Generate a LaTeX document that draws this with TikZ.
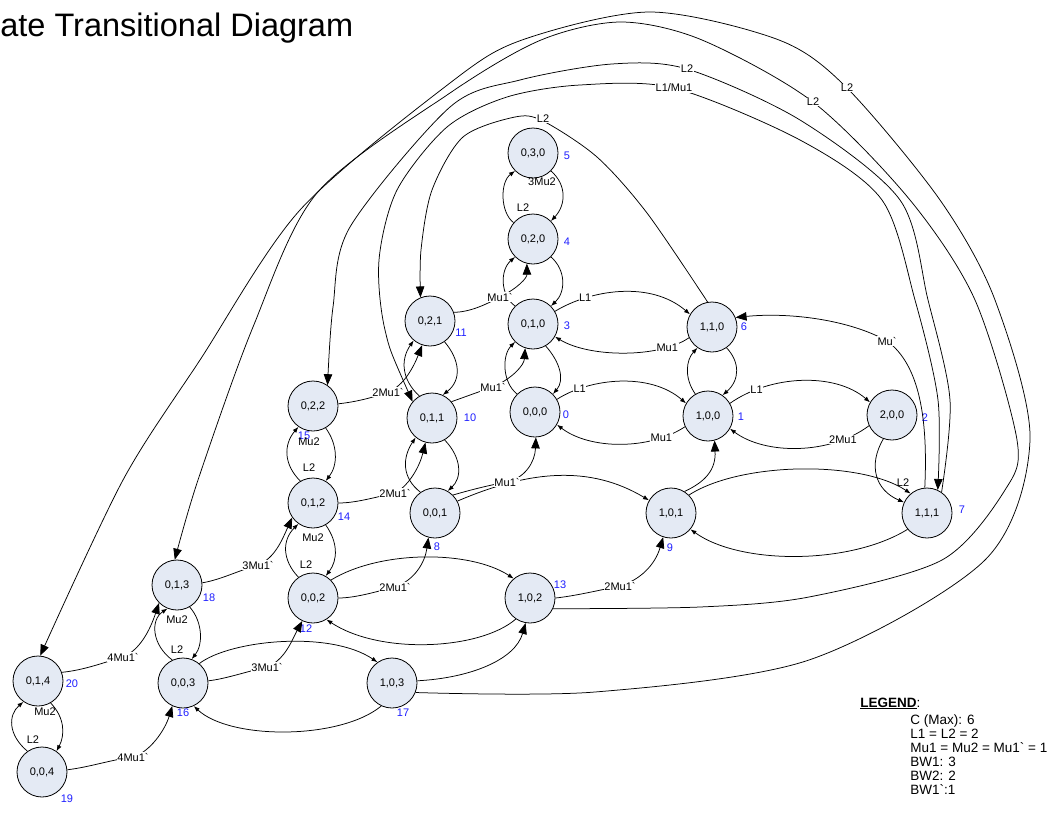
\documentclass[tikz,border=0pt]{standalone}
\usepackage{fontspec}
\setmainfont{Liberation Sans}[Ligatures=TeXOff]
\usetikzlibrary{arrows.meta}
\definecolor{stfill}{RGB}{228,234,244}
\definecolor{numblue}{RGB}{30,30,255}
\tikzset{
  st/.style={circle,draw,line width=0.8pt,fill=stfill,minimum size=50pt,inner sep=0pt,font=\fontsize{11}{13}\selectfont},
  num/.style={text=numblue,inner sep=0pt,font=\fontsize{11}{13}\selectfont},
  lab/.style={inner sep=0.6pt,font=\fontsize{11}{13}\selectfont},
  onl/.style={lab,fill=white},
  sa/.style={-{Latex[length=6pt,width=4.5pt]}},
  ba/.style={-{Triangle[length=11pt,width=8.5pt]}},
  bb/.style={{Triangle[length=11pt,width=8.5pt]}-{Triangle[length=11pt,width=8.5pt]}}
}
\begin{document}
\begin{tikzpicture}[x=1pt,y=-1pt,line width=0.75pt]
      \useasboundingbox (0,0) rectangle (1052,814);
      \node[anchor=base west,inner sep=0pt,font=\fontsize{32.5}{36}\selectfont] (title) at (0,36) {ate Transitional Diagram};
      \path
        (535,412) node[st] (0){0,0,0}
        (708,416) node[st] (1){1,0,0}
        (892,415) node[st] (2){2,0,0}
        (533,324) node[st] (3){0,1,0}
        (533,239) node[st] (4){0,2,0}
        (533,153) node[st] (5){0,3,0}
        (712,327) node[st] (6){1,1,0}
        (927,513) node[st] (7){1,1,1}
        (435,513) node[st] (8){0,0,1}
        (671,513) node[st] (9){1,0,1}
        (432,418) node[st] (10){0,1,1}
        (430,321) node[st] (11){0,2,1}
        (313,598) node[st] (12){0,0,2}
        (530,598) node[st] (13){1,0,2}
        (313,503) node[st] (14){0,1,2}
        (313,406) node[st] (15){0,2,2}
        (183,683) node[st] (16){0,0,3}
        (392,683) node[st] (17){1,0,3}
        (177,585) node[st] (18){0,1,3}
        (42,772) node[st] (19){0,0,4}
        (38,681) node[st] (20){0,1,4};
      \path
        (566,415) node[num] (l0){0}
        (741,417) node[num] (l1){1}
        (925,418) node[num] (l2){2}
        (567,326) node[num] (l3){3}
        (567,242) node[num] (l4){4}
        (567,156) node[num] (l5){5}
        (744,327) node[num] (l6){6}
        (962,510) node[num] (l7){7}
        (437,547) node[num] (l8){8}
        (670,548) node[num] (l9){9}
        (470,418) node[num] (l10){10}
        (461,333) node[num] (l11){11}
        (306,629) node[num] (l12){12}
        (560,585) node[num] (l13){13}
        (344,517) node[num] (l14){14}
        (304,436) node[num] (l15){15}
        (183,713) node[num] (l16){16}
        (403,713) node[num] (l17){17}
        (209,598) node[num] (l18){18}
        (67,799) node[num] (l19){19}
        (72,684) node[num] (l20){20};
      \begin{scope}[sa]
        \draw (4.140) .. controls (500,212) and (500,182) .. (5.225) node[lab] at (523,208) {L2};
        \draw (5.-45) .. controls (567,185) and (566,205) .. (4.45) node[lab] at (542,182) {3Mu2};
        \draw (3.135) .. controls (500,295) and (500,270) .. (4.225);
        \draw (4.-45) .. controls (566,270) and (566,292) .. (3.45);
        \draw (0.135) .. controls (502,382) and (502,355) .. (3.225);
        \draw (3.-60) .. controls (560,362) and (565,380) .. (0.45);
        \draw (1.120) .. controls (684,378) and (686,360) .. (6.235);
        \draw (6.-55) .. controls (740,362) and (740,380) .. (1.55);
        \draw (2.-110) .. controls (868,465) and (875,490) .. (7.155);
        \draw (7.-140) .. controls (850,565) and (740,565) .. (9.-40);
        \draw (11.-55) .. controls (460,360) and (462,380) .. (10.65);
        \draw (10.120) .. controls (402,380) and (400,360) .. (11.-130);
        \draw (10.-60) .. controls (462,458) and (462,478) .. (8.60);
        \draw (8.125) .. controls (402,478) and (402,458) .. (10.-130);
        \draw (8.28) .. controls (530,470) and (590,465) .. (9.150);
        \draw (12.45) .. controls (380,550) and (470,550) .. (13.130);
        \draw (13.-124) .. controls (480,650) and (380,655) .. (12.-58);
        \draw (16.50) .. controls (230,640) and (330,630) .. (17.125);
        \draw (17.-115) .. controls (340,740) and (230,740) .. (16.-65);
        \draw (9.45) .. controls (740,462) and (860,460) .. (7.130) node[lab] at (903,483) {L2};
        \draw (3.30) .. controls (590,290) and (650,280) .. (6.150) node[onl,pos=.25] {L1};
        \draw (6.205) .. controls (660,358) and (590,358) .. (3.-30) node[onl,pos=.2] {Mu1};
        \draw (0.30) .. controls (590,378) and (650,372) .. (1.150) node[onl,pos=.2] {L1};
        \draw (1.205) .. controls (650,450) and (590,450) .. (0.-30) node[onl,pos=.2] {Mu1};
        \draw (1.30) .. controls (770,375) and (835,372) .. (2.150) node[onl,pos=.2] {L1};
        \draw (2.205) .. controls (830,455) and (765,455) .. (1.-30) node[onl,pos=.2] {2Mu1};
        \draw (15.-60) .. controls (338,445) and (338,465) .. (14.60) node[lab] at (309,442) {Mu2};
        \draw (14.120) .. controls (284,465) and (283,445) .. (15.-125) node[lab] at (309,468) {L2};
        \draw (14.-60) .. controls (338,542) and (338,560) .. (12.60) node[lab] at (313,538) {Mu2};
        \draw (12.125) .. controls (282,560) and (282,540) .. (14.-125) node[lab] at (306,565) {L2};
        \draw (16.115) .. controls (152,645) and (150,620) .. (18.-112) node[lab] at (177,650) {L2};
        \draw (18.-60) .. controls (203,622) and (203,645) .. (16.70) node[lab] at (177,620) {Mu2};
        \draw (20.-60) .. controls (65,718) and (65,735) .. (19.55) node[lab] at (45,712) {Mu2};
        \draw (19.125) .. controls (8,735) and (8,715) .. (20.-125) node[lab] at (33,740) {L2};
      \end{scope}
      \begin{scope}[ba]
        \draw (9.58) .. controls (705,482) and (716,470) .. (1.-75);
        \draw (17.5) .. controls (470,678) and (515,660) .. (13.-100);
        \draw (11.20) .. controls (470,312) and (485,305) .. (500,297) node[onl]{Mu1`} .. controls (518,288) and (527,278) .. (4.-104);
        \draw (10.40) .. controls (462,398) and (478,392) .. (493,387) node[onl]{Mu1`} .. controls (513,378) and (524,365) .. (3.-108);
        \draw (7.95) .. controls (928,420) and (920,365) .. (887,341) node[onl]{Mu`} .. controls (850,320) and (790,312) .. (6.22);
        \draw (15.5) .. controls (355,402) and (372,398) .. (388,392) node[onl]{2Mu1`} .. controls (404,386) and (414,366) .. (11.-108);
        \draw (14.0) .. controls (355,503) and (372,498) .. (395,493) node[onl]{2Mu1`} .. controls (410,485) and (420,465) .. (10.-105);
        \draw (8.45) .. controls (470,490) and (490,485) .. (507,482) node[onl]{Mu1`} .. controls (525,478) and (535,462) .. (0.-88);
        \draw (18.5) .. controls (220,580) and (240,570) .. (258,565) node[onl]{3Mu1`} .. controls (275,558) and (282,540) .. (14.-145);
        \draw (12.0) .. controls (355,598) and (375,592) .. (395,587) node[onl]{2Mu1`} .. controls (415,580) and (425,562) .. (8.-105);
        \draw (13.0) .. controls (575,596) and (600,590) .. (620,586) node[onl]{2Mu1`} .. controls (640,580) and (655,565) .. (9.-108);
        \draw (16.5) .. controls (225,679) and (245,672) .. (267,667) node[onl]{3Mu1`} .. controls (285,660) and (292,640) .. (12.-115);
        \draw (20.20) .. controls (85,670) and (105,662) .. (123,657) node[onl]{4Mu1`} .. controls (140,650) and (150,630) .. (18.-135);
        \draw (19.5) .. controls (90,767) and (110,760) .. (133,757) node[onl]{4Mu1`} .. controls (150,752) and (165,730) .. (16.-115);
        \draw plot[smooth] coordinates {(6.100) (647,213) (597,157) (543,121) (515,117) (463,137) (432,190) (421,250) (11.112)} node[onl] at (543,119) {L2};
        \draw plot[smooth] coordinates {(7.55) (950,400) (928,300) (900,200) (800,120) (687,69) (612,64) (520,80) (450,107) (350,227) (333,307) (15.55)} node[onl] at (687,69) {L2};
        \draw plot[smooth] coordinates {(13.-25) (700,607) (809,597) (942,560) (1005,490) (1017,440) (975,300) (910,200) (813,102) (702,40) (621,22) (541,40) (450,93) (317,193) (253,327) (198,480) (18.95)} node[onl] at (813,102) {L2};
        \draw plot[smooth] coordinates {(17.-22) (595,692) (809,660) (985,560) (1030,440) (995,300) (940,200) (847,88) (779,40) (650,12) (522,40) (450,83) (300,210) (200,360) (123,480) (20.85)} node[onl] at (847,88) {L2};
      \end{scope}
      \draw[bb] plot[smooth] coordinates {(10.140) (385,330) (379,260) (397,190) (447,127) (507,97) (580,85) (674,88) (800,140) (882,200) (915,300) (938,400) (7.65)} node[onl] at (674,88) {L1/Mu1};
      \node[anchor=base west,inner sep=0pt,font=\fontsize{13.5}{15}\selectfont] (legend) at (860,707) {\underline{\textbf{LEGEND}}:};
      \foreach \t [count=\i] in {C (Max): 6, L1 = L2 = 2, Mu1 = Mu2 = Mu1` = 1, BW1: 3, BW2: 2, BW1`:1}
        \node[anchor=base west,inner sep=0pt,font=\fontsize{13.5}{15}\selectfont] (leg\i) at (910,710.2+14.1*\i) {\t};
    \end{tikzpicture}
\end{document}
